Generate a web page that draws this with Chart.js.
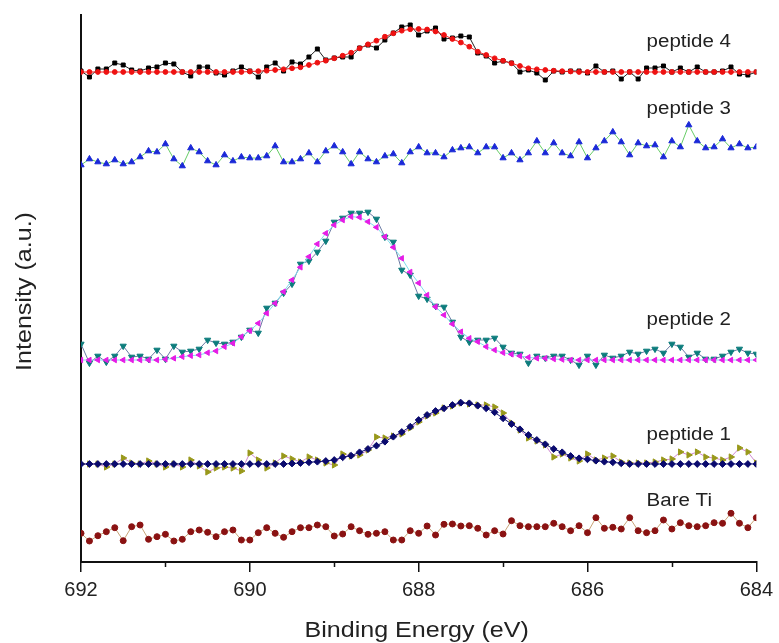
<!DOCTYPE html>
<html>
<head>
<meta charset="utf-8">
<script src="https://cdn.jsdelivr.net/npm/chart.js@4.4.0/dist/chart.umd.min.js"></script>
<style>
  body { margin: 0; background: #fff; }
  #chart { display: block; }
</style>
</head>
<body>
<canvas id="chart" width="779" height="643"></canvas>
<script>
const energy = [
  692.0, 691.9, 691.8, 691.7, 691.6, 691.5, 691.4, 691.3, 691.2, 691.1,
  691.0, 690.9, 690.8, 690.7, 690.6, 690.5, 690.4, 690.3, 690.2, 690.1,
  690.0, 689.9, 689.8, 689.7, 689.6, 689.5, 689.4, 689.3, 689.2, 689.1,
  689.0, 688.9, 688.8, 688.7, 688.6, 688.5, 688.4, 688.3, 688.2, 688.1,
  688.0, 687.9, 687.8, 687.7, 687.6, 687.5, 687.4, 687.3, 687.2, 687.1,
  687.0, 686.9, 686.8, 686.7, 686.6, 686.5, 686.4, 686.3, 686.2, 686.1,
  686.0, 685.9, 685.8, 685.7, 685.6, 685.5, 685.4, 685.3, 685.2, 685.1,
  685.0, 684.9, 684.8, 684.7, 684.6, 684.5, 684.4, 684.3, 684.2, 684.1,
  684.0
];

const xTicks = [692, 690, 688, 686, 684];
const xMinorTicks = [691, 689, 687, 685];

// offset intensities (a.u.), one row per 1 eV
const peptide4Raw = [
  491, 485, 493, 493, 499, 497, 492, 491, 494, 495,
  499, 498, 490, 486, 495, 495, 489, 487, 491, 495,
  491, 485, 495, 499, 491, 500, 498, 505, 513, 502,
  504, 505, 505, 514, 517, 514, 522, 529, 535, 537,
  527, 531, 534, 523, 524, 526, 525, 509, 506, 499,
  501, 499, 490, 492, 489, 482, 491, 490, 491, 491,
  489, 496, 490, 491, 483, 490, 483, 494, 494, 496,
  490, 494, 490, 495, 490, 490, 491, 495, 488, 487,
  490
];
const peptide4Fit = [
  490, 490, 490, 490, 490, 490, 490, 490, 490, 490,
  490, 490, 490, 490, 490, 490, 490, 490, 490, 490,
  490.5, 490.8, 491.3, 492, 492.7, 493.7, 494.7, 497, 499.3, 501.3,
  503.7, 506.3, 509.3, 513.7, 517.7, 521.3, 525.3, 528.7, 531.3, 532.7,
  533, 532.5, 530.5, 527, 523, 519.5, 515.3, 510.3, 507, 503.7,
  501.3, 498.7, 496, 493.7, 492.7, 492, 491.3, 490.8, 490.5, 490,
  490, 490, 490, 490, 490, 490, 490, 490, 490, 490,
  490, 490, 490, 490, 490, 490, 490, 490, 490, 490,
  490
];
const peptide3 = [
  397, 403, 400, 398, 402, 398, 400, 405, 411, 410,
  418, 403, 396, 414, 410, 401, 397, 407, 401, 405,
  404, 404, 406, 416, 400, 400, 403, 409, 400, 411,
  416, 410, 398, 410, 403, 400, 406, 408, 399, 410,
  415, 409, 409, 405, 412, 414, 415, 409, 415, 415,
  404, 409, 402, 409, 421, 409, 419, 409, 406, 420,
  404, 414, 421, 430, 420, 407, 419, 416, 417, 405,
  421, 415, 437, 421, 414, 415, 423, 414, 418, 414,
  415
];
const peptide2Raw = [
  218, 199, 206, 200, 206, 216, 205, 206, 203, 212,
  203, 216, 210, 211, 213, 222, 219, 218, 220, 225,
  232, 229, 254, 259, 269, 278, 298, 301, 310, 321,
  340, 344, 349, 349, 350, 343, 325, 320, 292, 287,
  266, 263, 256, 255, 240, 225, 220, 222, 222, 224,
  215, 209, 208, 199, 206, 204, 206, 206, 202, 197,
  206, 197, 207, 204, 206, 210, 208, 211, 213, 209,
  218, 215, 205, 209, 203, 203, 206, 210, 213, 209,
  208
];
const peptide2Fit = [
  202, 202, 202, 202, 202, 202, 202, 202, 202, 202,
  202.7, 203.7, 205.3, 206.3, 207, 209.3, 211, 215.3, 218.7, 225.3,
  231.3, 238.7, 248.7, 258.7, 270.3, 282, 294.7, 305.3, 318, 328.7,
  337, 342, 345.3, 344.7, 340.3, 334.7, 325.3, 314.7, 303.7, 290,
  279, 267, 255.3, 247, 238, 230.3, 223.7, 220.3, 215.3, 212,
  209.3, 207.7, 206, 204.7, 203.7, 203.7, 203, 202.5, 202, 202,
  202, 202, 202, 202, 202, 202, 202, 202, 202, 202,
  202, 202, 202, 202, 202, 202, 202, 202, 202, 202,
  202
];
const peptide1Raw = [
  98, 98, 98, 95, 98, 104, 99, 98, 101, 98,
  95, 98, 95, 102, 96, 90, 94, 95, 94, 91,
  109, 102, 94, 99, 106, 103, 100, 105, 102, 99,
  97, 108, 106, 107, 112, 125, 124, 126, 128, 134,
  140, 146, 149, 154, 156, 159, 158, 157, 157, 155,
  149, 139, 132, 124, 121, 117, 105, 108, 104, 101,
  108, 102, 104, 106, 100, 99, 99, 99, 100, 102,
  103, 110, 107, 110, 105, 104, 102, 105, 114, 110,
  99
];
const peptide1Fit = [
  98, 98, 98, 98, 98, 98, 98, 98, 98, 98,
  98, 98, 98, 98, 98, 98, 98, 98, 98, 98,
  98, 98, 98, 98, 98, 98.5, 99, 99.7, 100.3, 101,
  102, 104.7, 106.3, 109.7, 113, 116.3, 120.3, 125.3, 130, 135.3,
  142, 147, 151, 153.7, 157, 159.3, 158.7, 156.3, 153.7, 149.7,
  143.7, 138, 132.7, 127, 122, 117.7, 113, 109.7, 106, 103.7,
  102.7, 101.3, 100.3, 99.7, 98.7, 98, 98, 98, 98, 98,
  98, 98, 98, 98, 98, 98, 98, 98, 98, 98,
  98
];
const bareTi = [
  28.7, 21, 26.3, 30.3, 34.3, 21.3, 35.3, 37, 22.7, 25.3,
  27.7, 21, 22.7, 30.3, 32, 29.7, 25.3, 30.3, 32, 22,
  22, 29.3, 34.3, 28.7, 24.7, 30.3, 34.3, 34.3, 37, 35.3,
  26, 28, 35.3, 31.3, 27.7, 28.7, 30.3, 22, 22, 31.3,
  28.7, 36, 27, 37.7, 38, 36, 36.3, 33.7, 27, 31.3,
  28, 41.3, 36.3, 35.3, 35.3, 35.3, 38.7, 35.3, 31.3, 36.3,
  29.3, 44.3, 33.7, 34.7, 33, 44.3, 31.3, 29.3, 31.3, 42,
  33, 39.3, 36.3, 35.3, 36.3, 39.3, 38.7, 48.7, 38.7, 34.3,
  44.3
];

const seriesNames = ["peptide 4", "peptide 3", "peptide 2", "peptide 1", "Bare Ti"];

function points(values) {
  return values.map(function (v, i) { return { x: energy[i], y: v }; });
}

function series(values, style) {
  return Object.assign({
    data: points(values),
    borderWidth: 1,
    pointBorderWidth: 1,
    tension: 0,
    order: 1
  }, style);
}

const FONT = "'Liberation Sans', Arial, sans-serif";
const STRETCH = 1.14; // the original text is set a little wide

function wideText(ctx, text, x, y, size, align, angle) {
  ctx.save();
  ctx.translate(x, y);
  if (angle) ctx.rotate(angle);
  ctx.scale(STRETCH, 1);
  ctx.font = size + "px " + FONT;
  ctx.textAlign = align;
  ctx.textBaseline = "alphabetic";
  ctx.fillText(text, 0, 0);
  ctx.restore();
}

const textLayer = {
  id: "textLayer",
  afterDraw: function (chart, args, opts) {
    const ctx = chart.ctx;
    const x = chart.scales.x;
    const y = chart.scales.y;
    const area = chart.chartArea;
    ctx.save();
    ctx.fillStyle = "#222";
    opts.names.forEach(function (name, i) {
      wideText(ctx, name, x.getPixelForValue(opts.x), y.getPixelForValue(opts.y[i]), 18, "left", 0);
    });
    wideText(ctx, x.options.title.text, (area.left + area.right) / 2 - 2, chart.height - 6, 22, "center", 0);
    wideText(ctx, y.options.title.text, 31, (area.top + area.bottom) / 2 + 3, 22, "center", -Math.PI / 2);

    ctx.strokeStyle = "#111";
    ctx.lineWidth = 1.5;
    opts.minor.forEach(function (v) {
      const px = Math.round(x.getPixelForValue(v)) + 0.5;
      ctx.beginPath();
      ctx.moveTo(px, area.bottom);
      ctx.lineTo(px, area.bottom + 5);
      ctx.stroke();
    });
    ctx.restore();
  }
};

const ctx = document.getElementById("chart").getContext("2d");
new Chart(ctx, {
  type: "line",
  data: {
    datasets: [
      series(peptide4Raw, { borderColor: "#222", pointBackgroundColor: "#000", pointBorderColor: "#000", pointStyle: "rect", pointRadius: 2.8 }),
      series(peptide4Fit, { borderColor: "#ee2020", pointBackgroundColor: "#ee1111", pointBorderColor: "#ee1111", pointStyle: "circle", pointRadius: 2.4, order: 0 }),
      series(peptide3, { borderColor: "#66cc66", pointBackgroundColor: "#1a28d8", pointBorderColor: "#1a28d8", pointStyle: "triangle", pointRadius: 3.6 }),
      series(peptide2Raw, { borderColor: "#6a7aa4", pointBackgroundColor: "#0c7c7c", pointBorderColor: "#0c7c7c", pointStyle: "triangle", rotation: 180, pointRadius: 3.6 }),
      series(peptide2Fit, { borderColor: "#7fdcec", pointBackgroundColor: "#e61ce6", pointBorderColor: "#e61ce6", pointStyle: "triangle", rotation: -90, pointRadius: 3.2, order: 0 }),
      series(peptide1Raw, { borderColor: "#d088d0", pointBackgroundColor: "#98981a", pointBorderColor: "#98981a", pointStyle: "triangle", rotation: 90, pointRadius: 3.6 }),
      series(peptide1Fit, { borderColor: "#101070", pointBackgroundColor: "#0a0a6e", pointBorderColor: "#0a0a6e", pointStyle: "rectRot", pointRadius: 3.4, order: 0 }),
      series(bareTi, { borderColor: "#c8a478", pointBackgroundColor: "#8a1212", pointBorderColor: "#8a1212", pointStyle: "circle", pointRadius: 3 })
    ]
  },
  options: {
    responsive: false,
    animation: false,
    layout: { padding: { left: 0, right: 18, top: 15, bottom: 0 } },
    plugins: {
      legend: { display: false },
      tooltip: { enabled: false },
      textLayer: { names: seriesNames, x: 685.3, y: [515, 448, 237, 122, 56], minor: xMinorTicks }
    },
    scales: {
      x: {
        type: "linear",
        reverse: true,
        min: 684,
        max: 692,
        afterFit: function (scale) { scale.height = 81; },
        afterBuildTicks: function (scale) {
          scale.ticks = xTicks.map(function (v) { return { value: v }; });
        },
        grid: { display: true, drawOnChartArea: false, drawTicks: true, tickLength: 10, color: "#111", lineWidth: 1.5 },
        border: { display: true, color: "#111", width: 2 },
        ticks: { color: "#222", padding: 6, font: { family: FONT, size: 20 } },
        title: { display: false, text: "Binding Energy (eV)" }
      },
      y: {
        min: 0,
        max: 547,
        afterFit: function (scale) { scale.width = 81; },
        grid: { display: false },
        border: { display: true, color: "#111", width: 2 },
        ticks: { display: false },
        title: { display: false, text: "Intensity (a.u.)" }
      }
    }
  },
  plugins: [textLayer]
});
</script>
</body>
</html>
